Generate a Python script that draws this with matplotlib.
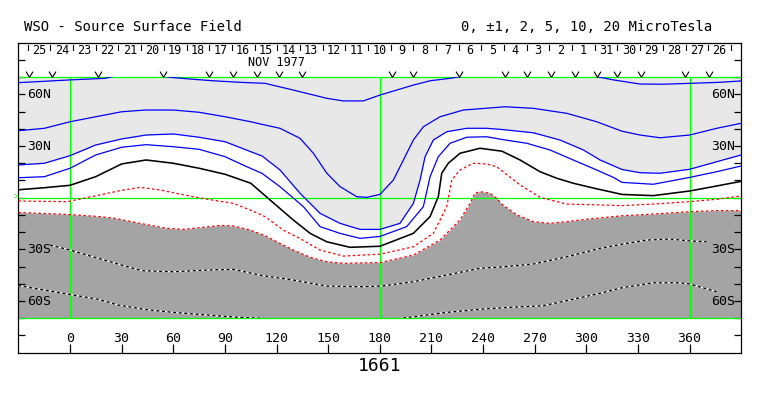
import matplotlib
matplotlib.use('Agg')
import matplotlib.pyplot as plt
import matplotlib.patches as mpatches
from matplotlib.path import Path

plt.rcParams['font.family'] = 'DejaVu Sans Mono'

# contour lines (Carrington longitude, latitude)
lon_p10 = [-30.0, 0.0, 20.3, 29.1, 44.0, 58.1, 69.7, 83.1, 98.8, 113.3, 129.7, 149.2, 158.8, 170.4, 180.1,
           189.8, 199.5, 209.2, 220.8, 226.6, 260.0, 290.0, 308.0, 315.7, 331.2, 344.7, 360.1, 377.7, 389.9]
lat_p10 = [66.8, 68.4, 69.3, 71.3, 72.0, 69.9, 68.9, 67.9, 67.0, 66.4, 62.5, 57.7, 56.2, 56.2, 59.6,
           62.5, 65.4, 67.9, 69.3, 70.3, 73.0, 73.0, 69.9, 68.4, 66.0, 65.9, 66.4, 67.0, 67.8]

lon_p5 = [-30.0, -14.9, 0.0, 14.9, 30.0, 43.6, 60.0, 75.0, 90.1, 105.0, 113.3, 122.0, 133.6, 141.4, 149.2,
          156.9, 166.6, 172.4, 180.1, 187.9, 193.7, 199.5, 205.3, 215.0, 228.5, 252.8, 269.2, 288.6, 306.0,
          320.7, 331.2, 342.8, 360.1, 375.8, 389.9]
lat_p5 = [38.9, 40.3, 44.1, 47.0, 49.9, 50.9, 50.9, 49.6, 47.0, 44.1, 42.2, 40.3, 34.5, 25.8, 14.2,
          6.4, 0.6, 0.2, 1.9, 10.3, 21.9, 33.5, 41.2, 47.0, 50.9, 52.8, 51.9, 49.0, 44.1,
          38.6, 36.4, 34.8, 36.4, 40.3, 43.2]

lon_p2 = [-30.0, -14.9, 0.0, 14.9, 30.0, 44.2, 60.0, 75.0, 90.1, 105.0, 111.6, 122.0, 133.6, 145.3, 156.9,
          168.5, 180.1, 191.7, 199.5, 203.4, 206.3, 211.1, 218.9, 230.5, 242.1, 251.0, 269.2, 284.7, 298.3,
          308.0, 320.7, 331.2, 342.8, 360.1, 375.8, 389.9]
lat_p2 = [19.0, 20.0, 24.4, 30.6, 34.1, 36.4, 37.0, 35.1, 32.5, 26.7, 24.2, 16.1, 2.6, -9.1, -14.9,
          -18.4, -18.4, -14.9, -3.3, 10.3, 23.8, 33.5, 38.3, 40.3, 40.3, 39.6, 37.7, 33.5, 27.7,
          21.9, 16.4, 14.5, 14.2, 16.5, 20.9, 24.8]

lon_p1 = [-30.0, -14.9, 0.0, 14.9, 30.0, 44.2, 60.0, 75.0, 90.1, 102.7, 111.6, 122.0, 135.6, 145.3, 156.9,
          168.5, 180.1, 195.6, 205.3, 209.2, 214.0, 220.8, 230.5, 242.1, 251.0, 265.4, 278.9, 292.4, 306.0,
          315.7, 320.7, 338.9, 360.1, 375.8, 389.9]
lat_p1 = [11.6, 12.2, 17.1, 24.8, 29.3, 30.8, 29.6, 28.1, 23.8, 18.0, 14.1, 6.4, -5.2, -16.8, -20.7,
          -23.6, -22.5, -16.8, -5.2, 12.2, 23.8, 31.6, 35.1, 35.4, 33.8, 31.6, 27.7, 21.9, 16.1,
          11.8, 8.9, 7.8, 11.8, 15.1, 18.4]

lon_0 = [-30.0, -14.9, 0.0, 14.9, 30.0, 44.2, 60.0, 75.0, 90.1, 105.0, 111.6, 116.2, 129.7, 139.5, 149.2,
         162.7, 180.1, 199.5, 209.2, 214.0, 216.0, 219.8, 226.6, 238.2, 251.0, 261.5, 273.1, 282.8, 292.4,
         304.1, 320.7, 338.9, 360.1, 375.8, 389.9]
lat_0 = [4.6, 5.8, 7.2, 12.2, 19.6, 21.9, 20.0, 17.1, 13.6, 8.4, 2.7, -1.3, -12.9, -20.7, -25.6,
         -28.8, -28.2, -20.7, -11.0, 0.6, 14.2, 20.0, 25.8, 28.7, 27.0, 21.9, 15.1, 11.3, 8.4,
         5.6, 1.9, 1.2, 3.9, 6.8, 9.5]

lon_m1 = [-30.0, -1.9, 5.8, 17.4, 29.1, 40.7, 52.3, 63.9, 75.5, 94.9, 104.6, 113.3, 123.9, 133.6, 145.3,
          158.8, 180.1, 199.5, 211.1, 218.9, 221.8, 226.6, 234.3, 242.1, 247.9, 251.0, 261.5, 273.1, 278.9,
          288.6, 308.0, 320.7, 338.9, 360.1, 375.8, 389.9]
lat_m1 = [-1.9, -2.3, -0.8, 1.6, 4.1, 6.0, 4.5, 2.1, -0.2, -3.3, -7.1, -11.0, -18.8, -23.7, -30.4,
          -33.9, -32.8, -28.5, -20.7, -5.2, 10.3, 16.1, 20.0, 19.6, 18.0, 15.6, 7.4, 0.2, -1.3,
          -3.7, -4.2, -4.6, -3.7, -2.3, -0.9, 1.0]

lon_m2 = [-30.0, 0.0, 17.4, 26.1, 40.7, 56.2, 65.8, 75.5, 87.2, 94.9, 104.6, 113.3, 120.1, 129.7, 139.5,
          149.2, 158.8, 180.1, 199.5, 215.0, 226.6, 232.4, 235.3, 238.2, 244.0, 247.9, 251.0, 259.6, 269.2,
          278.9, 288.6, 300.2, 320.7, 338.9, 360.1, 375.8, 389.9]
lat_m2 = [-8.6, -9.8, -11.0, -12.0, -14.9, -17.8, -18.4, -17.4, -16.1, -16.4, -18.8, -22.0, -25.6, -30.4, -34.6,
          -37.2, -38.1, -37.7, -33.3, -24.6, -12.9, -3.3, 2.6, 3.5, 2.6, -0.3, -3.9, -10.0, -13.9,
          -14.9, -13.9, -12.5, -10.5, -9.5, -8.1, -7.5, -7.5]

lon_m5 = [-11.6, 0.0, 16.4, 30.0, 41.8, 60.0, 79.4, 94.9, 111.6, 129.7, 149.2, 168.5, 181.3, 199.5, 218.9,
          238.2, 251.0, 269.2, 288.6, 308.0, 320.7, 335.1, 348.6, 360.1, 370.0]
lat_m5 = [-27.5, -30.4, -35.2, -39.1, -42.4, -43.0, -42.0, -41.6, -45.2, -47.8, -51.3, -51.7, -51.3, -48.8, -44.9,
          -41.0, -40.2, -38.5, -34.3, -29.4, -27.0, -24.6, -24.0, -25.1, -25.6]

lon_m10 = [-30.2, 0.0, 16.4, 27.9, 43.6, 60.0, 79.4, 98.8, 109.2, 150.0, 192.7, 199.5, 218.9, 238.2, 251.0,
           275.0, 288.6, 308.0, 320.7, 338.9, 354.4, 360.1, 375.8]
lat_m10 = [-51.0, -56.2, -59.0, -62.3, -64.9, -66.6, -68.1, -69.5, -69.9, -73.0, -70.0, -69.1, -66.6, -64.8, -63.9,
           -62.7, -59.8, -55.5, -52.3, -49.4, -49.4, -50.1, -54.6]

# observation markers along the top of the map
obs_lon = [-23.8, -10.3, 16.4, 54.2, 80.8, 94.9, 108.5, 121.6, 134.6, 187.3, 199.5, 226.2, 252.8, 265.7,
           279.5, 293.4, 306.0, 318.0, 331.6, 357.3, 371.4]

# day-of-month labels across the top (time runs right to left)
day_labels = ['25', '24', '23', '22', '21', '20', '19', '18', '17', '16', '15', '14', '13', '12', '11', '10',
              '9', '8', '7', '6', '5', '4', '3', '2', '1', '31', '30', '29', '28', '27', '26']
DAY0_LON = -24.58      # longitude of the day boundary at the left of "25"
DEG_PER_DAY = 13.18

lon_ticks = [0, 30, 60, 90, 120, 150, 180, 210, 240, 270, 300, 330, 360]
lat_labels = [60, 30, -30, -60]
lat_names = ['60N', '30N', '30S', '60S']

GREEN = '#00ff00'
LIGHT = '#e8e8e8'
DARK = '#a4a4a4'

fig = plt.figure(figsize=(7.63, 3.96), dpi=100)
ax = fig.add_axes([18.4 / 763, 43.3 / 396, 722.8 / 763, 310 / 396])
ax.set_xlim(-30, 390)
ax.set_ylim(-90, 90)

# shaded regions
ax.fill_between(lon_p2, lat_p2, 70, color=LIGHT, lw=0, zorder=1)
ax.fill_between(lon_m2, -70, lat_m2, color=DARK, lw=0, zorder=1)

# grid lines
for y in [70, 0, -70]:
    ax.axhline(y, color=GREEN, lw=0.9, zorder=2)
ax.vlines([0, 180, 360], -70, 70, color=GREEN, lw=0.9, zorder=2)

clip = mpatches.Rectangle((-30, -70), 420, 140, transform=ax.transData)

lines = []
for lo, la in [(lon_p10, lat_p10), (lon_p5, lat_p5), (lon_p2, lat_p2), (lon_p1, lat_p1)]:
    lines += ax.plot(lo, la, color='#0000ff', lw=0.9, zorder=4)
lines += ax.plot(lon_0, lat_0, color='black', lw=1.15, zorder=5)
for lo, la in [(lon_m1, lat_m1), (lon_m2, lat_m2)]:
    lines += ax.plot(lo, la, color='#ff0000', lw=0.9, ls=(0, (2, 2)), zorder=4)
for lo, la in [(lon_m5, lat_m5), (lon_m10, lat_m10)]:
    lines += ax.plot(lo, la, color='white', lw=0.9, zorder=4)
    lines += ax.plot(lo, la, color='black', lw=0.9, ls=(0, (2.5, 2)), zorder=4)
for ln in lines:
    ln.set_clip_path(clip)

# axis ticks
ax.set_xticks(lon_ticks)
ax.set_yticks(range(-80, 81, 10))
ax.tick_params(axis='x', direction='in', length=6.5, width=0.9, labelbottom=False, top=False)
ax.tick_params(axis='y', direction='in', length=5, width=0.9, labelleft=False, right=True)
for s in ax.spines.values():
    s.set_linewidth(0.9)

for lo in lon_ticks:
    ax.text(lo, -81.6, str(lo), ha='center', va='center', fontsize=9.5)
for la, name in zip(lat_labels, lat_names):
    ax.text(-25.0, la, name, ha='left', va='center', fontsize=9.5, zorder=6)
    ax.text(386.4, la, name, ha='right', va='center', fontsize=9.5, zorder=6)

# top date scale
for i, lab in enumerate(day_labels):
    x0 = DAY0_LON + i * DEG_PER_DAY
    ax.plot([x0, x0], [85.9, 88.8], color='black', lw=0.8)
    ax.text(x0 + DEG_PER_DAY / 2, 83.6, lab, ha='center', va='baseline', fontsize=8.5)
x_end = DAY0_LON + len(day_labels) * DEG_PER_DAY
ax.plot([x_end, x_end], [85.9, 88.8], color='black', lw=0.8)
ax.text(119.7, 76.6, 'NOV 1977', ha='center', va='baseline', fontsize=8.5)

# open "v" ticks marking observation times
vmark = Path([(-0.6, 0.5), (0, -0.5), (0.6, 0.5)], [Path.MOVETO, Path.LINETO, Path.LINETO])
ax.plot(obs_lon, [71.9] * len(obs_lon), ls='none', marker=vmark, markersize=5,
        markerfacecolor='none', markeredgecolor='black', markeredgewidth=0.8, clip_on=False)

ax.text(-31.5, 0.3, '>', color=GREEN, ha='center', va='center', fontsize=6, clip_on=False)

fig.text(24 / 763, 1 - 27 / 396, 'WSO - Source Surface Field', ha='left', va='center', fontsize=10)
fig.text(712 / 763, 1 - 27 / 396, '0, \u00b11, 2, 5, 10, 20 MicroTesla', ha='right', va='center', fontsize=10)
fig.text(380 / 763, 1 - 366 / 396, '1661', ha='center', va='center', fontsize=13)

fig.savefig('out.png', dpi=100)
